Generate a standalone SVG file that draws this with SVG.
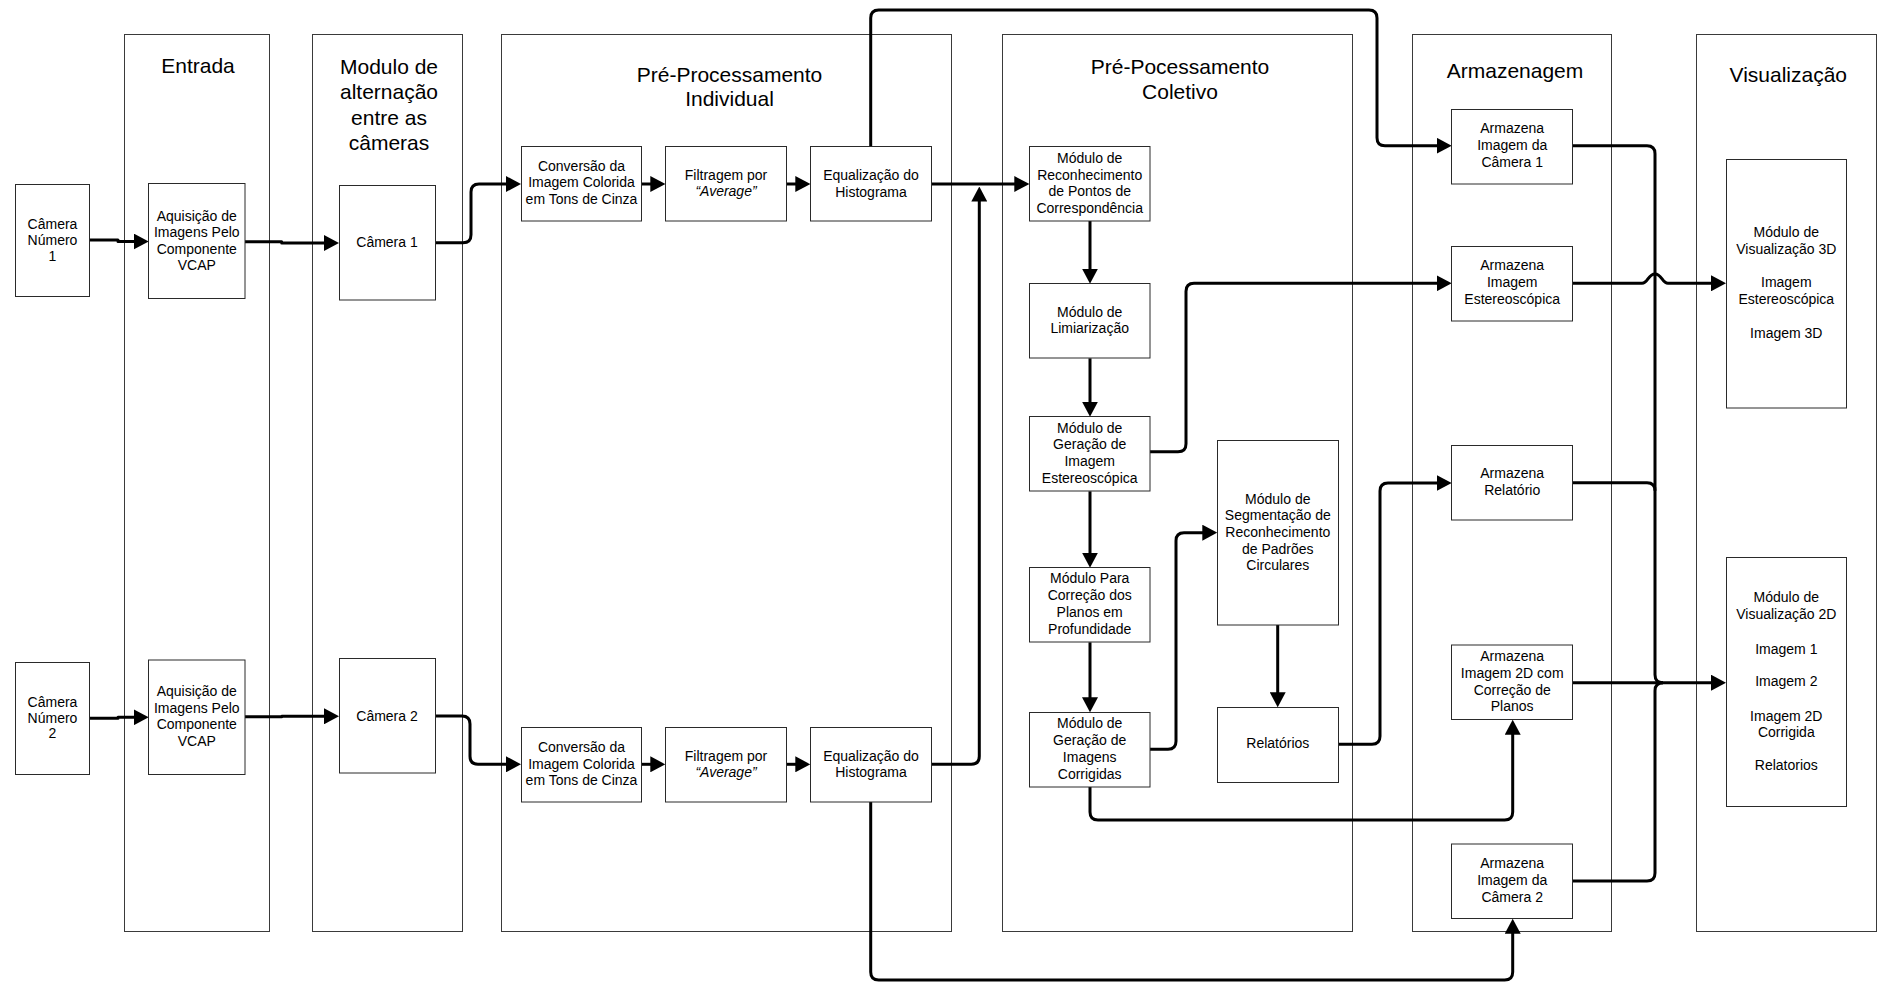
<svg xmlns="http://www.w3.org/2000/svg" width="1877" height="982" viewBox="0 0 1877 982">
  <style>
    .panel { fill: none; stroke: #3a3a3a; stroke-width: 1; }
    .box { fill: #ffffff; stroke: #2a2a2a; stroke-width: 1; }
    .title { font-family: "Liberation Sans", Arial, sans-serif; font-size: 21px; fill: #000; text-anchor: middle; }
    .lbl { font-family: "Liberation Sans", Arial, sans-serif; font-size: 14px; fill: #000; text-anchor: middle; }
    .it { font-style: italic; }
    .wire { fill: none; stroke: #000; stroke-width: 3; stroke-linejoin: round; }
    .arr { marker-end: url(#head); }
  </style>
  <defs>
    <marker id="head" markerUnits="userSpaceOnUse" viewBox="0 0 15 16" markerWidth="15" markerHeight="16" refX="5" refY="8" orient="auto">
      <path d="M0,0 L15,8 L0,16 Z" fill="#000"/>
    </marker>
  </defs>
  <rect width="1877" height="982" fill="#ffffff"/>

  <!-- stage panels -->
  <g id="panel-entrada">
    <rect class="panel" x="124.5" y="34.5" width="145" height="897"/>
    <text class="title" x="198" y="73">Entrada</text>
  </g>
  <g id="panel-alternacao">
    <rect class="panel" x="312.5" y="34.5" width="150" height="897"/>
    <text class="title" x="389" y="74">Modulo de</text>
    <text class="title" x="389" y="99.3">alternação</text>
    <text class="title" x="389" y="124.5">entre as</text>
    <text class="title" x="389" y="150">câmeras</text>
  </g>
  <g id="panel-pre-individual">
    <rect class="panel" x="501.5" y="34.5" width="450" height="897"/>
    <text class="title" x="729.5" y="81.7">Pré-Processamento</text>
    <text class="title" x="729.5" y="106">Individual</text>
  </g>
  <g id="panel-pre-coletivo">
    <rect class="panel" x="1002.5" y="34.5" width="350" height="897"/>
    <text class="title" x="1180" y="74">Pré-Pocessamento</text>
    <text class="title" x="1180" y="99">Coletivo</text>
  </g>
  <g id="panel-armazenagem">
    <rect class="panel" x="1412.5" y="34.5" width="199" height="897"/>
    <text class="title" x="1515" y="78.3">Armazenagem</text>
  </g>
  <g id="panel-visualizacao">
    <rect class="panel" x="1696.5" y="34.5" width="180" height="897"/>
    <text class="title" x="1788.3" y="81.7">Visualização</text>
  </g>

  <!-- connectors -->
  <g id="connectors">
    <path class="wire arr" d="M89.3,240 H118 V241.5 H138.7"/>
    <path class="wire arr" d="M245,241.7 H281.7 V243 H329"/>
    <path class="wire arr" d="M435,242.7 H463 Q471,242.7 471,234.7 V192 Q471,184 479,184 H511"/>
    <path class="wire arr" d="M641.7,184 H655.3"/>
    <path class="wire arr" d="M786.3,184 H800.3"/>
    <path class="wire arr" d="M931.3,184 H1019.3"/>
    <path class="wire arr" d="M931.3,764.3 H971.3 Q979.3,764.3 979.3,756.3 V196.5"/>
    <path class="wire arr" d="M870.7,146.7 V18 Q870.7,10 878.7,10 H1369 Q1377,10 1377,18 V137.7 Q1377,145.7 1385,145.7 H1441.7"/>

    <path class="wire arr" d="M89.3,718.3 H118 V717.3 H138.7"/>
    <path class="wire arr" d="M245,716.7 H281.7 V716.3 H329"/>
    <path class="wire arr" d="M435,716 H462 Q470,716 470,724 V756.3 Q470,764.3 478,764.3 H511"/>
    <path class="wire arr" d="M641.7,764.3 H655.3"/>
    <path class="wire arr" d="M786.3,764.3 H800.3"/>

    <path class="wire arr" d="M1090,221 V273.7"/>
    <path class="wire arr" d="M1090,358.3 V406.7"/>
    <path class="wire arr" d="M1090,491.3 V557.7"/>
    <path class="wire arr" d="M1090,642.3 V702.3"/>
    <path class="wire arr" d="M1150,451.7 H1178 Q1186,451.7 1186,443.7 V291.3 Q1186,283.3 1194,283.3 H1441.7"/>
    <path class="wire arr" d="M1150,749.3 H1168 Q1176,749.3 1176,741.3 V540.7 Q1176,532.7 1184,532.7 H1207.3"/>
    <path class="wire arr" d="M1277.7,625 V697.3"/>
    <path class="wire arr" d="M1338.3,744.3 H1372 Q1380,744.3 1380,736.3 V491 Q1380,483 1388,483 H1441.7"/>
    <path class="wire arr" d="M1090,786.7 V812 Q1090,820 1098,820 H1504.7 Q1512.7,820 1512.7,812 V729.7"/>
    <path class="wire arr" d="M870.7,802 V972 Q870.7,980 878.7,980 H1504.7 Q1512.7,980 1512.7,972 V928.7"/>

    <path class="wire arr" d="M1572.7,283.3 H1642 C1648,283.3 1648,274 1655,274 C1662,274 1662,283.3 1668,283.3 H1716"/>
    <path class="wire" d="M1572.7,145.7 H1647 Q1655,145.7 1655,153.7 V674.7 Q1655,682.7 1663,682.7"/>
    <path class="wire" d="M1572.7,482.7 H1647 Q1655,482.7 1655,490.7"/>
    <path class="wire arr" d="M1572.7,682.7 H1716"/>
    <path class="wire" d="M1572.7,881 H1647 Q1655,881 1655,873 V690.7 Q1655,682.7 1663,682.7"/>
  </g>

  <!-- input cameras -->
  <g id="camera-numero-1">
    <rect class="box" x="15.5" y="184.5" width="74" height="112"/>
    <text class="lbl" x="52.5" y="229.3">Câmera</text>
    <text class="lbl" x="52.5" y="244.8">Número</text>
    <text class="lbl" x="52.5" y="261">1</text>
  </g>
  <g id="camera-numero-2">
    <rect class="box" x="15.5" y="662.5" width="74" height="112"/>
    <text class="lbl" x="52.5" y="706.7">Câmera</text>
    <text class="lbl" x="52.5" y="722.5">Número</text>
    <text class="lbl" x="52.5" y="738.3">2</text>
  </g>
  <g id="aquisicao-1">
    <rect class="box" x="148.5" y="183.5" width="96.5" height="115"/>
    <text class="lbl" x="196.8" y="221">Aquisição de</text>
    <text class="lbl" x="196.8" y="237.3">Imagens Pelo</text>
    <text class="lbl" x="196.8" y="253.6">Componente</text>
    <text class="lbl" x="196.8" y="270">VCAP</text>
  </g>
  <g id="aquisicao-2">
    <rect class="box" x="148.5" y="660" width="96.5" height="114.5"/>
    <text class="lbl" x="196.8" y="696">Aquisição de</text>
    <text class="lbl" x="196.8" y="712.7">Imagens Pelo</text>
    <text class="lbl" x="196.8" y="729.4">Componente</text>
    <text class="lbl" x="196.8" y="746.3">VCAP</text>
  </g>
  <g id="camera-1">
    <rect class="box" x="339.5" y="185.5" width="96" height="114.5"/>
    <text class="lbl" x="387" y="246.7">Câmera 1</text>
  </g>
  <g id="camera-2">
    <rect class="box" x="339.5" y="658.5" width="96" height="114.5"/>
    <text class="lbl" x="387" y="720.7">Câmera 2</text>
  </g>

  <!-- individual pre-processing, row 1 -->
  <g id="conversao-1">
    <rect class="box" x="521.5" y="146.5" width="120" height="74.5"/>
    <text class="lbl" x="581.5" y="170.7">Conversão da</text>
    <text class="lbl" x="581.5" y="187.3">Imagem Colorida</text>
    <text class="lbl" x="581.5" y="203.8">em Tons de Cinza</text>
  </g>
  <g id="filtragem-1">
    <rect class="box" x="665.5" y="146.5" width="121" height="74.5"/>
    <text class="lbl" x="726" y="180">Filtragem por</text>
    <text class="lbl it" x="726" y="196.3">“Average”</text>
  </g>
  <g id="equalizacao-1">
    <rect class="box" x="810.5" y="146.5" width="121" height="74.5"/>
    <text class="lbl" x="871" y="180">Equalização do</text>
    <text class="lbl" x="871" y="196.7">Histograma</text>
  </g>

  <!-- individual pre-processing, row 2 -->
  <g id="conversao-2">
    <rect class="box" x="521.5" y="727.5" width="120" height="74.5"/>
    <text class="lbl" x="581.5" y="751.8">Conversão da</text>
    <text class="lbl" x="581.5" y="768.5">Imagem Colorida</text>
    <text class="lbl" x="581.5" y="785.2">em Tons de Cinza</text>
  </g>
  <g id="filtragem-2">
    <rect class="box" x="665.5" y="727.5" width="121" height="74.5"/>
    <text class="lbl" x="726" y="760.7">Filtragem por</text>
    <text class="lbl it" x="726" y="777">“Average”</text>
  </g>
  <g id="equalizacao-2">
    <rect class="box" x="810.5" y="727.5" width="121" height="74.5"/>
    <text class="lbl" x="871" y="760.7">Equalização do</text>
    <text class="lbl" x="871" y="777">Histograma</text>
  </g>

  <!-- collective pre-processing -->
  <g id="reconhecimento-pontos">
    <rect class="box" x="1029.5" y="146.5" width="120.5" height="74.5"/>
    <text class="lbl" x="1089.7" y="162.7">Módulo de</text>
    <text class="lbl" x="1089.7" y="179.5">Reconhecimento</text>
    <text class="lbl" x="1089.7" y="196.3">de Pontos de</text>
    <text class="lbl" x="1089.7" y="213">Correspondência</text>
  </g>
  <g id="limiarizacao">
    <rect class="box" x="1029.5" y="283.5" width="120.5" height="74.5"/>
    <text class="lbl" x="1089.7" y="316.7">Módulo de</text>
    <text class="lbl" x="1089.7" y="333.3">Limiarização</text>
  </g>
  <g id="geracao-estereoscopica">
    <rect class="box" x="1029.5" y="416.5" width="120.5" height="74.5"/>
    <text class="lbl" x="1089.7" y="432.7">Módulo de</text>
    <text class="lbl" x="1089.7" y="449.4">Geração de</text>
    <text class="lbl" x="1089.7" y="466.2">Imagem</text>
    <text class="lbl" x="1089.7" y="483">Estereoscópica</text>
  </g>
  <g id="correcao-planos">
    <rect class="box" x="1029.5" y="567.5" width="120.5" height="74.5"/>
    <text class="lbl" x="1089.7" y="583.3">Módulo Para</text>
    <text class="lbl" x="1089.7" y="600.3">Correção dos</text>
    <text class="lbl" x="1089.7" y="617.3">Planos em</text>
    <text class="lbl" x="1089.7" y="634.3">Profundidade</text>
  </g>
  <g id="geracao-corrigidas">
    <rect class="box" x="1029.5" y="712.5" width="120.5" height="74.5"/>
    <text class="lbl" x="1089.7" y="727.5">Módulo de</text>
    <text class="lbl" x="1089.7" y="745">Geração de</text>
    <text class="lbl" x="1089.7" y="762.3">Imagens</text>
    <text class="lbl" x="1089.7" y="779.3">Corrigidas</text>
  </g>
  <g id="segmentacao">
    <rect class="box" x="1217.5" y="440.5" width="121" height="184.5"/>
    <text class="lbl" x="1277.8" y="503.7">Módulo de</text>
    <text class="lbl" x="1277.8" y="520.3">Segmentação de</text>
    <text class="lbl" x="1277.8" y="537">Reconhecimento</text>
    <text class="lbl" x="1277.8" y="553.6">de Padrões</text>
    <text class="lbl" x="1277.8" y="570.3">Circulares</text>
  </g>
  <g id="relatorios">
    <rect class="box" x="1217.5" y="707.5" width="121" height="75"/>
    <text class="lbl" x="1277.8" y="748.3">Relatórios</text>
  </g>

  <!-- storage -->
  <g id="armazena-camera-1">
    <rect class="box" x="1451.5" y="109.5" width="121" height="74.5"/>
    <text class="lbl" x="1512.2" y="133.3">Armazena</text>
    <text class="lbl" x="1512.2" y="150.3">Imagem da</text>
    <text class="lbl" x="1512.2" y="167.3">Câmera 1</text>
  </g>
  <g id="armazena-estereoscopica">
    <rect class="box" x="1451.5" y="246.5" width="121" height="74.5"/>
    <text class="lbl" x="1512.2" y="270">Armazena</text>
    <text class="lbl" x="1512.2" y="287">Imagem</text>
    <text class="lbl" x="1512.2" y="304">Estereoscópica</text>
  </g>
  <g id="armazena-relatorio">
    <rect class="box" x="1451.5" y="445.5" width="121" height="74.5"/>
    <text class="lbl" x="1512.2" y="478.3">Armazena</text>
    <text class="lbl" x="1512.2" y="495">Relatório</text>
  </g>
  <g id="armazena-2d-corrigida">
    <rect class="box" x="1451.5" y="645" width="121" height="74.5"/>
    <text class="lbl" x="1512.2" y="660.5">Armazena</text>
    <text class="lbl" x="1512.2" y="677.5">Imagem 2D com</text>
    <text class="lbl" x="1512.2" y="694.5">Correção de</text>
    <text class="lbl" x="1512.2" y="710.5">Planos</text>
  </g>
  <g id="armazena-camera-2">
    <rect class="box" x="1451.5" y="844" width="121" height="74.5"/>
    <text class="lbl" x="1512.2" y="868.3">Armazena</text>
    <text class="lbl" x="1512.2" y="885.3">Imagem da</text>
    <text class="lbl" x="1512.2" y="902.3">Câmera 2</text>
  </g>

  <!-- visualization -->
  <g id="visualizacao-3d">
    <rect class="box" x="1726.5" y="159.5" width="120" height="248.5"/>
    <text class="lbl" x="1786.3" y="237.3">Módulo de</text>
    <text class="lbl" x="1786.3" y="254.3">Visualização 3D</text>
    <text class="lbl" x="1786.3" y="287.3">Imagem</text>
    <text class="lbl" x="1786.3" y="304.3">Estereoscópica</text>
    <text class="lbl" x="1786.3" y="338.3">Imagem 3D</text>
  </g>
  <g id="visualizacao-2d">
    <rect class="box" x="1726.5" y="557.5" width="120" height="249"/>
    <text class="lbl" x="1786.3" y="601.7">Módulo de</text>
    <text class="lbl" x="1786.3" y="619">Visualização 2D</text>
    <text class="lbl" x="1786.3" y="654">Imagem 1</text>
    <text class="lbl" x="1786.3" y="686">Imagem 2</text>
    <text class="lbl" x="1786.3" y="720.7">Imagem 2D</text>
    <text class="lbl" x="1786.3" y="737.3">Corrigida</text>
    <text class="lbl" x="1786.3" y="770">Relatorios</text>
  </g>
</svg>
